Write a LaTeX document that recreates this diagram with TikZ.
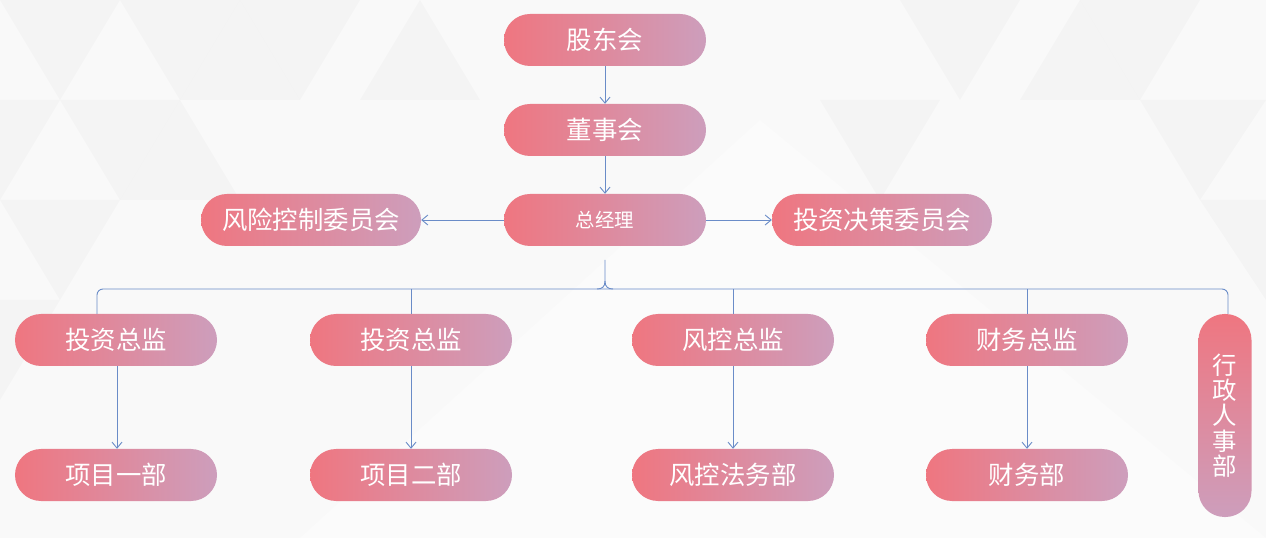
\documentclass[tikz,border=0pt]{standalone}
\usepackage{fontspec}
\newfontfamily\cjk{Noto Sans CJK SC}
\usetikzlibrary{arrows.meta,calc}
\definecolor{pinkL}{RGB}{239,118,128}
\definecolor{pinkR}{RGB}{205,158,188}
\definecolor{conncol}{RGB}{106,140,200}
\tikzset{
  box/.style={rounded corners=26bp, minimum width=202bp, minimum height=52bp, inner sep=0pt,
    left color=pinkL, right color=pinkR, draw=none, text=white,
    font=\cjk\fontsize{25.5}{28}\selectfont},
  widebox/.style={box, minimum width=220bp},
  vbox/.style={rounded corners=26bp, minimum width=53bp, minimum height=203bp, inner sep=0pt,
    top color=pinkL, bottom color=pinkR, draw=none, text=white, align=center,
    font=\cjk\fontsize{24.5}{25.5}\selectfont},
  conn/.style={draw=conncol, line width=0.9bp},
  arr/.style={conn, -{Straight Barb[length=6bp,width=10bp]}},
  tri/.style={fill=black, fill opacity=0.018, draw=none}
}
\begin{document}
\begin{tikzpicture}[x=1bp,y=-1bp]
% background
\fill[white!97.5!black] (0,0) rectangle (1266,538);
\useasboundingbox (0,0) rectangle (1266,538);
\fill[white, fill opacity=0.35] (300,538) -- (760,120) -- (1266,538) -- cycle;
\fill[tri] (0,0) -- (120,0) -- (60,100) -- cycle;
\fill[tri] (120,0) -- (240,0) -- (180,100) -- cycle;
\fill[tri] (0,100) -- (60,100) -- (0,200) -- cycle;
\fill[tri] (60,100) -- (180,100) -- (120,200) -- cycle;
\fill[tri] (180,100) -- (300,100) -- (240,0) -- cycle;
\fill[tri] (240,0) -- (360,0) -- (300,100) -- cycle;
\fill[tri] (0,200) -- (120,200) -- (60,300) -- cycle;
\fill[tri] (120,200) -- (240,200) -- (180,100) -- cycle;
\fill[tri] (0,300) -- (60,300) -- (0,400) -- cycle;
\fill[tri] (360,100) -- (480,100) -- (420,0) -- cycle;
\fill[tri] (900,0) -- (1020,0) -- (960,100) -- cycle;
\fill[tri] (1080,0) -- (1200,0) -- (1140,100) -- cycle;
\fill[tri] (1140,100) -- (1266,100) -- (1200,200) -- cycle;
\fill[tri] (1020,100) -- (1140,100) -- (1080,0) -- cycle;
\fill[tri] (1200,200) -- (1266,200) -- (1266,300) -- cycle;
\fill[tri] (820,100) -- (940,100) -- (880,200) -- cycle;

% nodes
\node[box] (gd) at (605,40) {股东会};
\node[box] (ds) at (605,130) {董事会};
\node[box, font=\cjk\fontsize{19.5}{22}\selectfont] (zjl) at (605,220) {总经理};
\node[widebox] (fx) at (311,220) {风险控制委员会};
\node[widebox] (tz) at (882,220) {投资决策委员会};

\node[box] (tz1) at (116,340) {投资总监};
\node[box] (tz2) at (411,340) {投资总监};
\node[box] (fk) at (733,340) {风控总监};
\node[box] (cw) at (1027,340) {财务总监};
\node[vbox] (xz) at (1225,415.5) {行\\政\\人\\事\\部};

\node[box] (xm1) at (116,475) {项目一部};
\node[box] (xm2) at (411,475) {项目二部};
\node[box] (fw) at (733,475) {风控法务部};
\node[box] (cwb) at (1027,475) {财务部};

% connectors
\draw[arr] (gd) -- (ds);
\draw[arr] (ds) -- (zjl);
\draw[arr] (zjl) -- (fx);
\draw[arr] (zjl) -- (tz);

\coordinate (bs) at (605,260);
\coordinate (bt) at (605,281);
\coordinate (bm) at (605,289);
\coordinate (bl) at (97,289);
\coordinate (br) at (1228,289);
\draw[conn] (bs) -- (bt) .. controls (605,287) and (602,289) .. (597,289);
\draw[conn] (bt) .. controls (605,287) and (608,289) .. (613,289);
\draw[conn, rounded corners=6bp] (tz1.north -| bl) -- (bl) -- (br) -- (xz.north -| br);
\draw[conn] (tz2.north |- bm) -- (tz2.north);
\draw[conn] (fk.north |- bm) -- (fk.north);
\draw[conn] (cw.north |- bm) -- (cw.north);

\draw[arr] ($(tz1.south)+(1,0)$) -- ($(xm1.north)+(1,0)$);
\draw[arr] (tz2) -- (xm2);
\draw[arr] (fk) -- (fw);
\draw[arr] (cw) -- (cwb);
\end{tikzpicture}
\end{document}
